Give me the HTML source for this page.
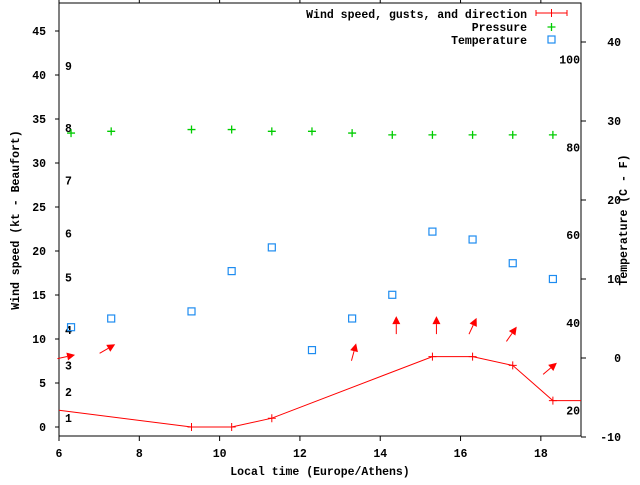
<!DOCTYPE html>
<html><head><meta charset="utf-8"><style>
body{margin:0;background:#fff}
svg text{font-family:"Liberation Mono",monospace;font-weight:bold;font-size:11.5px;fill:#000}
</style></head><body>
<svg id="chart" width="640" height="480" xmlns="http://www.w3.org/2000/svg">
<g id="axes"></g><g id="marks"></g><g id="legend"></g>
</svg>
<script>
const hours=[6.3,7.3,9.3,10.3,11.3,12.3,13.3,14.3,15.3,16.3,17.3,18.3];
const pressure=[33.4,33.6,33.8,33.8,33.6,33.6,33.4,33.2,33.2,33.2,33.2,33.2];
const temperature=[3.9,5.0,5.9,11.0,14.0,1.0,5.0,8.0,16.0,15.0,12.0,10.0];
const windHours=[6,9.3,10.3,11.3,15.3,16.3,17.3,18.3,19];
const windSpeed=[1.9,0,0,1,8,8,7,3,3];
const arrowHours=[6.3,7.3,13.3,14.3,15.3,16.3,17.3,18.3];
const gusts=[8.2,9.4,9.5,12.6,12.6,12.4,11.4,7.3];
const dirAngles=[12,30,75,90,90,65,55,40];
const xTicks=[6,8,10,12,14,16,18];
const yTicks=[0,5,10,15,20,25,30,35,40,45];
const y2Ticks=[-10,0,10,20,30,40];
const beaufort=[1,2,3,4,5,6,7,8,9];
const beaufortKt=[1,4,7,11,17,22,28,34,41];
const fahr=[20,40,60,80,100];

const L=59,R=581,T=3,B=436;
const X=h=>L+(h-6)/(19-6)*(R-L);
const Y=v=>427-v*8.8;
const Y2=c=>358-c*7.9;
const NS="http://www.w3.org/2000/svg";
function mk(tag,attrs,parent,txt){const e=document.createElementNS(NS,tag);for(const k in attrs)e.setAttribute(k,attrs[k]);if(txt!==undefined)e.textContent=txt;parent.appendChild(e);return e;}
const ax=document.getElementById('axes'),mg=document.getElementById('marks'),lg=document.getElementById('legend');

let fr=mk('rect',{x:L,y:T,width:R-L,height:B-T,fill:'none',stroke:'#000','stroke-width':1},ax);


xTicks.forEach(t=>{
 let l=mk('line',{x1:X(t),x2:X(t),y1:B,y2:B+5,stroke:'#000'},ax);
 
 
 let l2=mk('line',{x1:X(t),x2:X(t),y1:0,y2:T,stroke:'#000'},ax);
 
 
 let tx=mk('text',{x:X(t),y:B+21,'text-anchor':'middle'},ax,String(t));
 
 
});
yTicks.forEach(t=>{
 let l=mk('line',{x1:L-4,x2:L,y1:Y(t),y2:Y(t),stroke:'#000'},ax);
 
 
 let tx=mk('text',{x:46,y:Y(t)+4,'text-anchor':'end'},ax,String(t));
 
 
});
y2Ticks.forEach(t=>{
 let l=mk('line',{x1:R,x2:R+5,y1:Y2(t),y2:Y2(t),stroke:'#000'},ax);
 
 
 let tx=mk('text',{x:R+40,y:Y2(t)+4,'text-anchor':'end'},ax,String(t));
 
 
});
beaufort.forEach((b,i)=>{
 let tx=mk('text',{x:65,y:Y(beaufortKt[i])+4},ax,String(b));
 
 
});
fahr.forEach(f=>{
 let tx=mk('text',{x:580,y:Y2((f-32)*5/9)+4,'text-anchor':'end'},ax,String(f));
 
 
});
let xt=mk('text',{x:320,y:475,'text-anchor':'middle'},ax,'Local time (Europe/Athens)');


let yt=mk('text',{x:19,y:220,'text-anchor':'middle',transform:'rotate(-90 19 220)'},ax,'Wind speed (kt - Beaufort)');


let y2t=mk('text',{x:627,y:220,'text-anchor':'middle',transform:'rotate(-90 627 220)'},ax,'Temperature (C - F)');



// wind line
let pts=windHours.map((h,i)=>X(h)+','+Y(windSpeed[i])).join(' ');
let wl=mk('polyline',{points:pts,fill:'none',stroke:'#f00','stroke-width':1},mg);


windHours.forEach((h,i)=>{
 if(h<=6||h>=19)return;
 let p=mk('path',{d:`M${X(h)-4},${Y(windSpeed[i])}h8M${X(h)},${Y(windSpeed[i])-4}v8`,stroke:'#f00'},mg);
 
 
});
// arrows
arrowHours.forEach((h,i)=>{
 const a=dirAngles[i]*Math.PI/180,tx=X(h)+4,ty=Y(gusts[i]);
 const dx=Math.cos(a),dy=-Math.sin(a),len=18,hl=8,hw=4;
 const sx=tx-dx*len,sy=ty-dy*len,bx=tx-dx*hl,by=ty-dy*hl;
 const px=-dy,py=dx;
 let g=mk('g',{},mg);
 
 
 mk('line',{x1:sx,y1:sy,x2:bx,y2:by,stroke:'#f00'},g);
 mk('polygon',{points:`${tx},${ty} ${bx+px*hw},${by+py*hw} ${bx-px*hw},${by-py*hw}`,fill:'#f00'},g);
});
// pressure
hours.forEach((h,i)=>{
 const x=X(h),y=Y(pressure[i]);
 let p=mk('path',{d:`M${x-4},${y}h8M${x},${y-4}v8`,stroke:'#0c0','stroke-width':1.3},mg);
 
 
});
// temperature
hours.forEach((h,i)=>{
 const x=X(h),y=Y2(temperature[i]);
 let r=mk('rect',{x:x-3.5,y:y-3.5,width:7,height:7,fill:'none',stroke:'#1e8cf0','stroke-width':1.2},mg);
 
 
});
// legend
let t1=mk('text',{x:527,y:18,'text-anchor':'end'},lg,'Wind speed, gusts, and direction');


let l1=mk('path',{d:'M536,13h31M536,10v6M567,10v6M551.5,9v8',stroke:'#f00'},lg);


let t2=mk('text',{x:527,y:31,'text-anchor':'end'},lg,'Pressure');


let l2=mk('path',{d:'M547.5,27h8M551.5,23v8',stroke:'#0c0','stroke-width':1.3},lg);


let t3=mk('text',{x:527,y:44,'text-anchor':'end'},lg,'Temperature');


let l3=mk('rect',{x:548,y:36,width:7,height:7,fill:'none',stroke:'#1e8cf0','stroke-width':1.2},lg);


</script>
</body></html>
